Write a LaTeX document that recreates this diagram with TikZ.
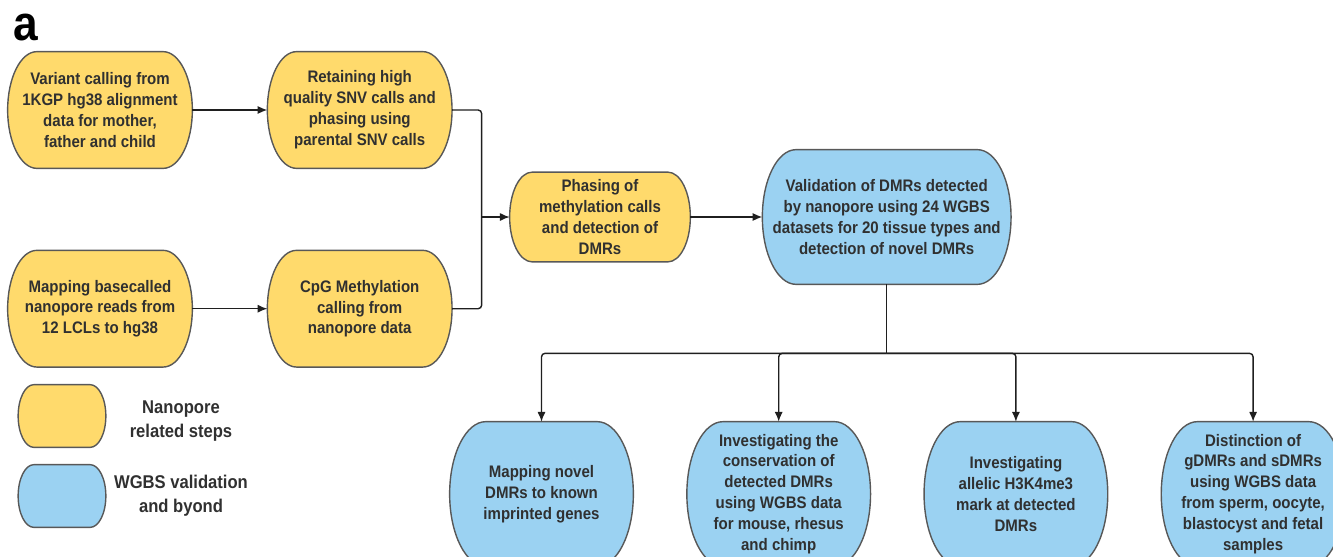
\documentclass[tikz,border=0pt]{standalone}
\usepackage{fontspec}
\setmainfont{Liberation Sans}[FakeStretch=0.9]
\usepackage{tikz}
\usetikzlibrary{arrows.meta,positioning,calc,backgrounds}
\definecolor{NanoYellow}{RGB}{255,218,108}
\definecolor{WgbsBlue}{RGB}{155,210,242}
\definecolor{EdgeGray}{RGB}{88,88,88}
\definecolor{InkGray}{RGB}{48,48,48}

\begin{document}
\begin{tikzpicture}[
  stepbox/.style={rectangle,align=center,inner sep=2pt,text=InkGray,font={\fontsize{9.5}{11.9}\selectfont\bfseries},minimum width=3.68cm,minimum height=2.32cm},
  finalbox/.style={stepbox,minimum width=3.66cm,minimum height=2.88cm},
  legbox/.style={rectangle,minimum width=1.74cm,minimum height=1.24cm},
  legtext/.style={align=center,text=InkGray,font={\fontsize{10.5}{13.6}\selectfont\bfseries}},
  shell/.style={draw=EdgeGray,line width=0.8pt},
  link/.style={draw=black!88,line width=0.8pt,rounded corners=2pt},
  arr/.style={link,-{Latex[length=5.5pt,width=4.6pt]}}
]
\useasboundingbox (0,0) rectangle (26.66,-11.14);
\node[anchor=base west,font={\fontsize{28}{30}\selectfont\bfseries}] (panel) at (0.14,-0.8) {a};

% nanopore side
\node[stepbox] (var) at (2.0,-2.2) {Variant calling from\\1KGP hg38 alignment\\data for mother,\\father and child};
\node[stepbox,right=1.5cm of var] (ret) {Retaining high\\quality SNV calls and\\phasing using\\parental SNV calls};
\node[stepbox,below=1.64cm of var] (mapr) {Mapping basecalled\\nanopore reads from\\12 LCLs to hg38};
\node[stepbox,right=1.5cm of mapr] (cpg) {CpG Methylation\\calling from\\nanopore data};
\node[stepbox,minimum width=3.6cm,minimum height=1.78cm] (phase) at (12.0,-4.34) {Phasing of\\methylation calls\\and detection of\\DMRs};

% WGBS side
\node[stepbox,right=1.44cm of phase,minimum width=4.96cm,minimum height=2.68cm] (valid) {Validation of DMRs detected\\by nanopore using 24 WGBS\\datasets for 20 tissue types and\\detection of novel DMRs};
\node[finalbox] (novel) at (10.83,-9.88) {Mapping novel\\DMRs to known\\imprinted genes};
\node[finalbox,right=1.07cm of novel] (cons) {Investigating the\\conservation of\\detected DMRs\\using WGBS data\\for mouse, rhesus\\and chimp};
\node[finalbox,right=1.07cm of cons] (h3k) {Investigating\\allelic H3K4me3\\mark at detected\\DMRs};
\node[finalbox,right=1.07cm of h3k] (germ) {Distinction of\\gDMRs and sDMRs\\using WGBS data\\from sperm, oocyte,\\blastocyst and fetal\\samples};

% legend
\node[legbox] (legY) at (1.24,-8.32) {};
\node[legbox] (legB) at (1.24,-9.92) {};
\node[legtext] (legYtxt) at (3.62,-8.42) {Nanopore\\related steps};
\node[legtext] (legBtxt) at (3.62,-9.92) {WGBS validation\\and byond};

% box outlines with elliptic ends
\begin{scope}[on background layer]
\clip (0,0) rectangle (26.66,-11.14);
\foreach \bx/\col in {var/NanoYellow,ret/NanoYellow,mapr/NanoYellow,cpg/NanoYellow,phase/NanoYellow,legY/NanoYellow,
                      valid/WgbsBlue,novel/WgbsBlue,cons/WgbsBlue,h3k/WgbsBlue,germ/WgbsBlue,legB/WgbsBlue}
  \draw[shell,fill=\col] let \p1=(\bx.north west), \p2=(\bx.south east), \n1={(\y1-\y2)/2}, \n2={(\y1-\y2)/4} in
    (\x1+\n2,\y1) -- (\x2-\n2,\y1) arc[start angle=90,end angle=-90,x radius=\n2,y radius=\n1]
    -- (\x1+\n2,\y2) arc[start angle=270,end angle=90,x radius=\n2,y radius=\n1] -- cycle;
\end{scope}

% connectors
\coordinate[left=0.56cm of phase] (join);
\coordinate[below=1.38cm of valid] (split);
\draw[arr] (var) -- (ret);
\draw[arr] (mapr) -- (cpg);
\draw[link] (ret.east) -| (join);
\draw[link] (cpg.east) -| (join);
\draw[arr] (join) -- (phase);
\draw[arr] (phase) -- (valid);
\draw[link] (valid.south) -- (split);
\foreach \bx in {novel,cons,h3k,germ}
  \draw[arr] (split) -| (\bx.north);
\end{tikzpicture}
\end{document}
